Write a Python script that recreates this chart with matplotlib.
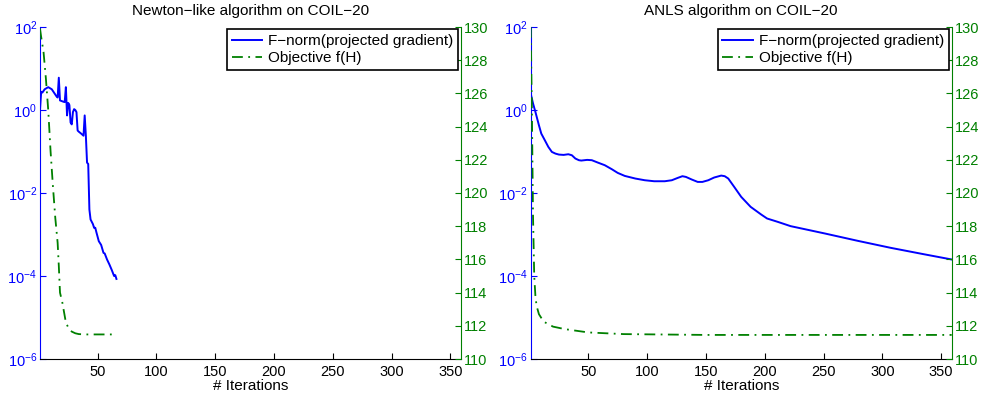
import matplotlib
matplotlib.use("Agg")
import matplotlib.pyplot as plt
from matplotlib.ticker import FixedLocator, NullLocator, LogFormatterSciNotation

plt.rcParams['font.family'] = ['Liberation Sans', 'DejaVu Sans']
plt.rcParams['mathtext.default'] = 'regular'

# ---- Data ----
newton_grad_iter = [1, 2, 3, 5, 8, 11, 15, 16, 17, 18, 21, 22, 23, 24, 25, 26, 27, 28, 29, 30,
                    31, 32, 33, 34, 36, 38, 39, 40, 41, 42, 43, 44, 46, 47, 48, 49, 51, 53,
                    55, 56, 58, 60, 62, 64, 65, 66]
newton_grad = [1.0, 2.75, 2.63, 3.16, 3.55, 3.16, 2.14, 2.0, 6.0, 1.7, 1.58, 1.55, 3.55, 0.74,
               1.48, 1.32, 0.5, 0.45, 0.89, 1.05, 1.0, 0.89, 0.32, 0.30, 0.27, 0.24, 0.74,
               0.24, 0.054, 0.05, 4.0e-3, 2.3e-3, 1.78e-3, 1.45e-3, 1.45e-3, 1.12e-3,
               6.9e-4, 5.6e-4, 3.6e-4, 3.5e-4, 2.5e-4, 1.9e-4, 1.4e-4, 1.0e-4, 1.05e-4, 8.5e-5]

newton_obj_iter = [1, 2, 4, 6, 8, 10, 12, 14, 16, 17, 18, 20, 23, 25, 28, 31, 34, 40, 50, 66]
newton_obj = [129.9, 129.4, 128.5, 126.9, 125.0, 122.5, 120.4, 118.5, 117.0, 115.6, 114.0,
              113.4, 112.2, 111.9, 111.65, 111.55, 111.5, 111.48, 111.48, 111.48]

anls_grad_iter = [1, 3, 5, 8, 10, 13, 16, 19, 22, 25, 29, 33, 36, 39, 42, 44, 49, 53, 58, 64,
                  70, 75, 81, 90, 98, 106, 115, 121, 126, 130, 133, 138, 143, 147, 152, 157,
                  163, 166, 169, 174, 180, 188, 197, 202, 211, 222, 251, 279, 307, 335, 359]
anls_grad = [2.48, 1.43, 0.90, 0.428, 0.270, 0.187, 0.129, 0.0977, 0.0891, 0.0843, 0.0828,
             0.0859, 0.0812, 0.0676, 0.0617, 0.0605, 0.0628, 0.0617, 0.0542, 0.0467, 0.0374,
             0.0305, 0.0258, 0.0223, 0.0203, 0.0192, 0.0192, 0.0203, 0.0231, 0.0254, 0.0244,
             0.0211, 0.0185, 0.0185, 0.0203, 0.0236, 0.0263, 0.0254, 0.0223, 0.0141, 8.07e-3,
             4.64e-3, 3.03e-3, 2.43e-3, 2.02e-3, 1.59e-3, 1.06e-3, 7.05e-4, 4.78e-4, 3.36e-4,
             2.50e-4]

anls_obj_iter = [1, 2, 3, 4, 5, 6, 8, 12, 20, 30, 50, 80, 150, 250, 359]
anls_obj = [130.0, 125.0, 118.5, 115.0, 113.8, 113.2, 112.7, 112.25, 111.95, 111.8, 111.6,
            111.5, 111.45, 111.45, 111.45]

titles = ["Newton\u2212like algorithm on COIL\u221220", "ANLS algorithm on COIL\u221220"]
legend_labels = ["F\u2212norm(projected gradient)", "Objective f(H)"]
x_ticks = [50, 100, 150, 200, 250, 300, 350]
left_ticks = [1e-6, 1e-4, 1e-2, 1e0, 1e2]
right_ticks = [110, 112, 114, 116, 118, 120, 122, 124, 126, 128, 130]

panels = [
    (newton_grad_iter, newton_grad, newton_obj_iter, newton_obj, titles[0]),
    (anls_grad_iter, anls_grad, anls_obj_iter, anls_obj, titles[1]),
]

BLUE = (0, 0, 1)
GREEN = (0, 0.5, 0)
FS_TICK = 10.5
FS = 11

fig = plt.figure(figsize=(9.84, 3.93), dpi=100)
lefts = [40 / 984, 530.7 / 984]
width = 421 / 984
bottom = 1 - 359 / 393
height = (359 - 27) / 393

for i, (gx, gy, ox, oy, title) in enumerate(panels):
    ax = fig.add_axes([lefts[i], bottom, width, height])
    ax2 = ax.twinx()
    l1, = ax.plot(gx, gy, color=BLUE, lw=1.4)
    l2, = ax2.plot(ox, oy, color=GREEN, lw=1.3, linestyle=(0, (6, 3, 1, 3)))

    ax.set_yscale('log')
    ax.set_ylim(1e-6, 1e2)
    ax.set_xlim(1, 359)
    ax2.set_ylim(110, 130)

    ax.yaxis.set_major_locator(FixedLocator(left_ticks))
    ax.yaxis.set_major_formatter(LogFormatterSciNotation())
    ax.yaxis.set_minor_locator(NullLocator())
    ax.xaxis.set_major_locator(FixedLocator(x_ticks))
    ax2.yaxis.set_major_locator(FixedLocator(right_ticks))

    for s in ['top', 'right']:
        ax.spines[s].set_visible(False)
    for s in ['top', 'left', 'bottom']:
        ax2.spines[s].set_visible(False)
    ax.spines['left'].set_color(BLUE)
    ax.spines['bottom'].set_color('black')
    ax2.spines['right'].set_color(GREEN)

    ax.tick_params(axis='x', direction='in', length=4, labelsize=FS_TICK, colors='black', pad=4)
    ax.tick_params(axis='y', direction='in', length=4, labelsize=FS_TICK, colors=BLUE, pad=2)
    ax2.tick_params(axis='y', direction='in', length=4, labelsize=FS_TICK, colors=GREEN, pad=2)

    ax.set_xlabel("# Iterations", fontsize=FS, labelpad=0)
    ax.set_title(title, fontsize=FS, pad=9)

    leg = ax2.legend([l1, l2], legend_labels, loc='upper right',
                     bbox_to_anchor=(0.993, 0.993), borderaxespad=0, fontsize=FS,
                     fancybox=False, framealpha=1, edgecolor='black',
                     handlelength=2.0, handletextpad=0.4, borderpad=0.3, labelspacing=0.2)
    leg.get_frame().set_linewidth(1.2)

fig.savefig("out.png", dpi=100)
